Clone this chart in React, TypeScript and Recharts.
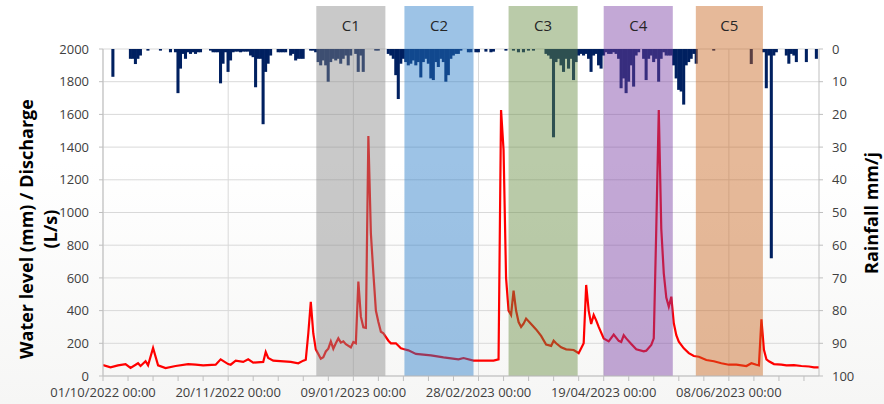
import React from "react";
import {
  ComposedChart,
  Bar,
  Line,
  XAxis,
  YAxis,
  CartesianGrid,
  ReferenceArea,
} from "recharts";

document.body.style.margin = "0";

const FONT = '"Open Sans", "Noto Sans", sans-serif';

// days counted from 01/10/2022
const lastDay = 286;

// daily rainfall [day, mm]
const rainfall: [number, number][] = [
  [4, 8.5], [11, 3], [12, 3], [13, 4.6], [14, 3], [15, 2], [18, 0.5], [23, 0.5],
  [27, 1], [29, 1], [30, 13.5], [31, 6], [32, 1.5], [33, 3], [34, 1], [35, 1.5],
  [36, 1], [37, 1.5], [38, 1], [39, 1], [43, 0.5], [44, 1], [45, 1], [46, 1],
  [47, 10.5], [48, 4.5], [49, 1], [50, 7], [51, 3.5], [52, 1], [53, 0.8], [54, 0.8],
  [55, 1], [56, 0.8], [57, 0.8], [58, 0.8], [59, 2], [60, 2.5], [61, 11.7], [62, 3],
  [63, 3], [64, 23], [65, 7], [66, 4.5], [67, 2], [70, 1], [71, 1], [72, 1], [73, 1],
  [75, 2], [76, 1.5], [77, 3.5], [78, 3], [79, 3], [80, 3], [83, 0.5], [84, 0.5],
  [85, 1], [86, 4], [87, 5], [88, 3.5], [89, 5], [90, 10], [91, 4], [92, 3],
  [93, 3.5], [94, 3], [95, 4.5], [96, 3], [97, 2], [98, 5], [99, 2], [101, 1.5],
  [102, 7], [103, 2], [104, 7], [109, 0.5], [110, 0.5], [114, 1.5], [115, 2],
  [116, 3], [117, 8], [118, 15.3], [119, 4.5], [120, 3], [121, 4], [122, 5],
  [123, 4.5], [124, 3.5], [125, 5], [126, 4], [127, 8.7], [128, 4], [129, 3],
  [130, 4.5], [131, 9], [132, 9.5], [133, 4], [134, 5.5], [135, 3], [136, 4],
  [137, 10], [138, 8], [139, 3], [140, 2], [141, 1.5], [142, 1.5], [143, 0.5],
  [146, 1], [147, 1], [149, 1], [150, 1], [153, 0.8], [155, 1], [156, 0.8],
  [161, 0.5], [164, 0.5], [166, 1], [168, 1], [170, 0.5], [172, 0.5], [177, 1.5],
  [178, 2], [179, 3], [180, 27], [181, 4], [182, 3], [183, 5], [184, 7], [185, 3],
  [186, 6], [187, 3], [188, 9.5], [189, 4], [190, 2], [191, 1.5], [192, 2],
  [193, 1.5], [194, 3], [195, 7], [196, 2], [197, 1.5], [198, 5], [199, 6], [200, 2],
  [201, 1], [202, 1.5], [203, 1.5], [204, 1], [205, 1.5], [206, 3], [207, 12],
  [208, 9], [209, 13.5], [210, 10], [211, 5], [212, 11.5], [213, 2], [214, 1],
  [216, 3], [217, 9.5], [218, 3], [219, 2], [220, 4], [221, 3], [222, 10], [223, 3],
  [224, 1], [225, 2], [226, 2], [227, 2], [228, 5], [229, 9], [230, 12.5], [231, 13],
  [232, 17], [233, 5], [234, 4], [235, 3], [236, 1.5], [237, 4.5], [244, 0.5],
  [259, 4.6], [264, 1], [265, 12], [266, 2], [267, 64], [268, 2], [269, 1],
  [273, 2], [274, 4.5], [275, 1.5], [276, 2], [277, 4], [281, 4], [285, 3],
];

// water level / discharge [day, value]
const waterLevel: [number, number][] = [
  [0, 67], [3, 53], [6, 65], [9, 73], [11, 49], [14, 78], [15, 61], [17, 90],
  [18, 65], [20, 171], [22, 65], [25, 49], [29, 61], [34, 73], [37, 69], [40, 65],
  [45, 69], [47, 102], [50, 73], [51, 69], [53, 94], [56, 86], [58, 102], [60, 82],
  [64, 86], [65, 147], [66, 110], [68, 94], [75, 86], [78, 78], [80, 94], [81, 100],
  [82, 260], [83, 453], [84, 260], [85, 163], [87, 106], [88, 115], [89, 150],
  [90, 167], [91, 212], [92, 167], [93, 200], [94, 230], [95, 204], [96, 212],
  [97, 195], [99, 175], [100, 208], [101, 200], [102, 577], [103, 363], [104, 298],
  [105, 294], [106, 1468], [107, 873], [108, 628], [109, 400], [110, 330],
  [111, 271], [112, 261], [114, 216], [115, 200], [117, 200], [119, 170],
  [120, 165], [122, 157], [125, 135], [131, 126], [136, 114], [139, 108],
  [142, 102], [144, 110], [148, 94], [156, 94], [158, 102], [159, 1627],
  [160, 1382], [161, 600], [162, 400], [163, 373], [164, 522], [165, 400],
  [166, 330], [167, 300], [168, 320], [169, 351], [171, 318], [173, 285],
  [175, 245], [177, 192], [179, 184], [180, 216], [181, 200], [183, 175],
  [185, 163], [188, 159], [190, 139], [191, 169], [192, 200], [193, 557],
  [194, 400], [195, 318], [196, 373], [197, 340], [198, 300], [200, 230],
  [202, 212], [204, 253], [206, 215], [207, 208], [208, 249], [209, 230],
  [211, 196], [213, 163], [216, 151], [217, 155], [219, 190], [220, 230],
  [221, 900], [222, 1627], [223, 900], [224, 628], [225, 480], [226, 424],
  [227, 485], [228, 322], [229, 250], [230, 210], [232, 169], [234, 140],
  [236, 122], [238, 118], [241, 98], [244, 90], [247, 78], [250, 69], [253, 69],
  [257, 61], [259, 78], [261, 69], [262, 65], [263, 347], [264, 160], [265, 102],
  [266, 90], [268, 73], [271, 70], [273, 65], [276, 66], [279, 61], [282, 58],
  [284, 53], [286, 53],
];

// sampling campaigns
const campaigns = ["C1", "C2", "C3", "C4", "C5"];
const campaignStart = [85.2, 120.4, 162, 200, 236.8];
const campaignEnd = [112.8, 148, 189.6, 227.6, 263.6];
const campaignFill = ["#878787", "#257ac7", "#668b40", "#7a3ea4", "#c7631c"];

const levelTicks = [0, 200, 400, 600, 800, 1000, 1200, 1400, 1600, 1800, 2000];
const rainTicks = [0, 10, 20, 30, 40, 50, 60, 70, 80, 90, 100];
const dayTicks = [
  0, 10, 20, 30, 40, 50, 60, 70, 80, 90, 100, 110, 120, 130, 140,
  150, 160, 170, 180, 190, 200, 210, 220, 230, 240, 250, 260, 270, 280,
];
const labelledDays = [0, 50, 100, 150, 200, 250];

const rainByDay = new Map(rainfall);
const levelByDay = new Map(waterLevel);
const table = Array.from({ length: lastDay + 1 }, (_, day) => ({
  day,
  rain: rainByDay.get(day) ?? 0,
  level: levelByDay.get(day) ?? null,
}));

const pad = (n: number) => String(n).padStart(2, "0");
const dayLabel = (day: number) => {
  if (!labelledDays.includes(day)) return "";
  const d = new Date(2022, 9, 1 + day);
  return `${pad(d.getDate())}/${pad(d.getMonth() + 1)}/${d.getFullYear()} 00:00`;
};

const tickStyle = { fill: "#404040", fontSize: 13, fontFamily: FONT };
const axisGrey = "#bfbfbf";

// daily bars sit edge to edge, widen a touch so neighbours merge;
// the rain axis is reversed so height can come in negative
const RainBar = (props: any) => {
  const { x, y, width, height } = props;
  if (!height || !width) return null;
  const top = Math.min(y, y + height);
  const h = Math.abs(height);
  const left = Math.min(x, x + width);
  const w = Math.abs(width);
  return <rect x={left - 0.4} y={top} width={w + 0.8} height={h} fill="#002060" />;
};

const LeftTitle = () => (
  <text
    transform="rotate(-90)"
    textAnchor="middle"
    fontFamily={FONT}
    fontWeight="bold"
    fontSize={18}
    fill="#000"
  >
    <tspan x={-229} y={33}>Water level (mm) / Discharge</tspan>
    <tspan x={-229} y={57}>(L/s)</tspan>
  </text>
);

const RightTitle = () => (
  <text
    transform="rotate(-90)"
    x={-213}
    y={878}
    textAnchor="middle"
    fontFamily={FONT}
    fontWeight="bold"
    fontSize={18}
    fill="#000"
  >
    Rainfall mm/j
  </text>
);

export default function App() {
  return (
    <div
      style={{
        width: 884,
        height: 404,
        background: "linear-gradient(#ffffff 0%, #ffffff 40%, #f6f6f5 100%)",
      }}
    >
      <ComposedChart
        width={884}
        height={404}
        data={table}
        margin={{ top: 49, right: 0, bottom: 0, left: 0 }}
        barGap={0}
        barCategoryGap={0}
      >
        <CartesianGrid
          yAxisId="left"
          stroke="#d9d9d9"
          horizontalValues={levelTicks}
          verticalCoordinatesGenerator={({ offset }: any) =>
            labelledDays.map((d) => offset.left + (d / lastDay) * offset.width)
          }
        />
        <XAxis
          dataKey="day"
          type="number"
          domain={[0, lastDay]}
          allowDataOverflow
          ticks={dayTicks}
          interval={0}
          tickFormatter={dayLabel}
          height={28}
          tickSize={5}
          tickMargin={7}
          stroke={axisGrey}
          tick={tickStyle}
        />
        <YAxis
          yAxisId="left"
          domain={[0, 2000]}
          ticks={levelTicks}
          interval={0}
          width={103}
          tickSize={4}
          tickMargin={10}
          stroke={axisGrey}
          tick={tickStyle}
          label={<LeftTitle />}
        />
        <YAxis
          yAxisId="right"
          orientation="right"
          domain={[0, 100]}
          reversed
          ticks={rainTicks}
          interval={0}
          width={65}
          tickSize={4}
          tickMargin={9}
          stroke={axisGrey}
          tick={{ ...tickStyle, textAnchor: "start" }}
          label={<RightTitle />}
        />
        <Bar
          yAxisId="right"
          dataKey="rain"
          fill="#002060"
          barSize={3}
          shape={RainBar}
          isAnimationActive={false}
        />
        <Line
          yAxisId="left"
          dataKey="level"
          type="linear"
          stroke="#ff0000"
          strokeWidth={2.2}
          dot={false}
          connectNulls
          isAnimationActive={false}
        />
        {campaigns.map((name, i) => (
          <ReferenceArea
            key={name}
            yAxisId="left"
            x1={campaignStart[i]}
            x2={campaignEnd[i]}
            y1={0}
            y2={2263}
            ifOverflow="visible"
            fill={campaignFill[i]}
            fillOpacity={0.45}
            stroke="none"
            zIndex={450}
            label={{
              value: name,
              position: "insideTop",
              offset: 14,
              fill: "#262626",
              fontSize: 15,
              fontFamily: FONT,
            }}
          />
        ))}
      </ComposedChart>
    </div>
  );
}
